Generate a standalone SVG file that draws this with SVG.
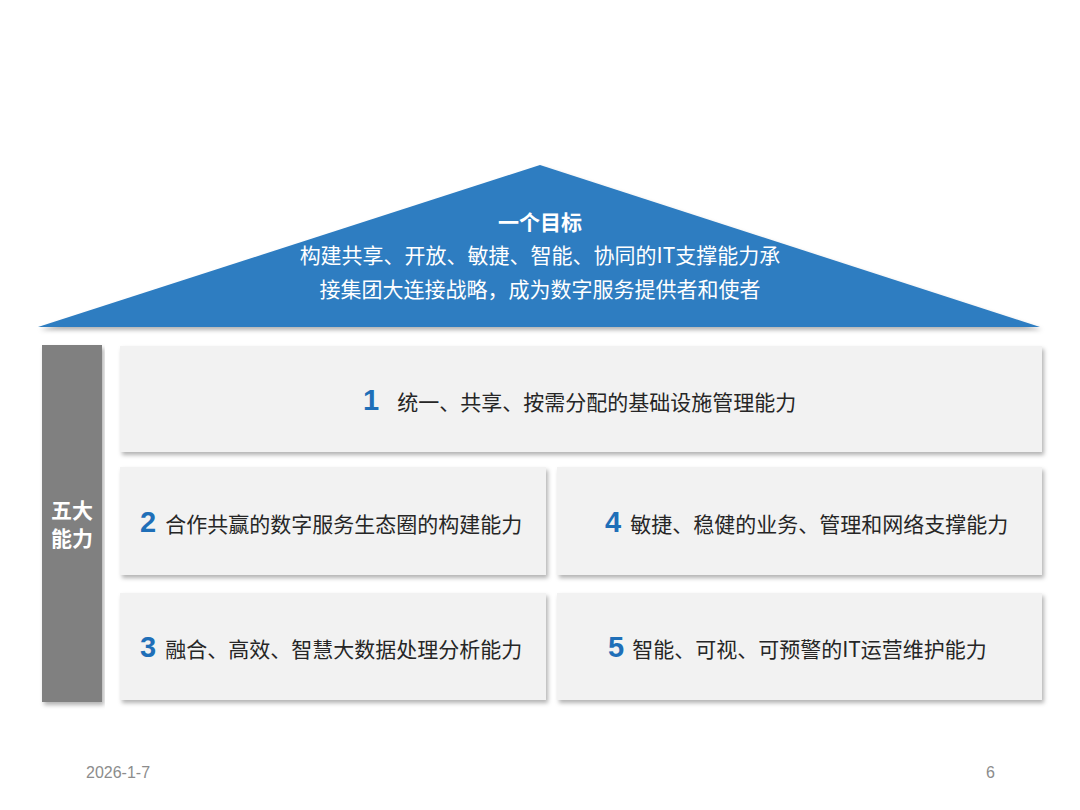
<svg xmlns="http://www.w3.org/2000/svg" width="1080" height="810" viewBox="0 0 1080 810">
<defs>
<filter id="sh" x="-5%" y="-10%" width="110%" height="130%">
<feDropShadow dx="2" dy="3" stdDeviation="2" flood-color="#000" flood-opacity="0.3"/>
</filter>
<style>
.box{fill:#f2f2f2;filter:url(#sh);}
.t{font-family:"Noto Sans CJK SC","Microsoft YaHei",sans-serif;font-size:21px;fill:#262626;}
.n{font-family:"Liberation Sans","Noto Sans CJK SC",sans-serif;font-size:29px;font-weight:bold;fill:#1f6fb8;}
.w{font-family:"Noto Sans CJK SC",sans-serif;font-size:21px;fill:#ffffff;}
.f{font-family:"Liberation Sans",sans-serif;font-size:16px;fill:#8c8c8c;}
</style>
</defs>
<rect width="1080" height="810" fill="#ffffff"/>
<g id="roof">
<polygon points="540,165 1040,327 38,327" fill="#2e7dc1" filter="url(#sh)"/>
<text class="w" x="540" y="230" text-anchor="middle" font-weight="bold">一个目标</text>
<text class="w" x="540" y="263" text-anchor="middle">构建共享、开放、敏捷、智能、协同的IT支撑能力承</text>
<text class="w" x="540" y="297" text-anchor="middle">接集团大连接战略，成为数字服务提供者和使者</text>
</g>
<g id="pillar">
<rect x="42" y="345" width="60" height="357" fill="#808080" filter="url(#sh)"/>
<text class="w" x="72" y="518" text-anchor="middle" font-weight="bold" font-size="19">五大</text>
<text class="w" x="72" y="546" text-anchor="middle" font-weight="bold" font-size="19">能力</text>
</g>
<g id="box1">
<rect class="box" x="120" y="346" width="922" height="106"/>
<text x="363" y="410"><tspan class="n">1</tspan><tspan class="t" dx="18">统一、共享、按需分配的基础设施管理能力</tspan></text>
</g>
<g id="box2">
<rect class="box" x="120" y="467" width="426" height="108"/>
<text x="140" y="532"><tspan class="n">2</tspan><tspan class="t" dx="9">合作共赢的数字服务生态圈的构建能力</tspan></text>
</g>
<g id="box3">
<rect class="box" x="120" y="593" width="426" height="107"/>
<text x="140" y="657"><tspan class="n">3</tspan><tspan class="t" dx="9">融合、高效、智慧大数据处理分析能力</tspan></text>
</g>
<g id="box4">
<rect class="box" x="557" y="467" width="485" height="108"/>
<text x="605" y="532"><tspan class="n">4</tspan><tspan class="t" dx="9">敏捷、稳健的业务、管理和网络支撑能力</tspan></text>
</g>
<g id="box5">
<rect class="box" x="557" y="593" width="485" height="107"/>
<text x="608" y="657"><tspan class="n">5</tspan><tspan class="t" dx="8">智能、可视、可预警的IT运营维护能力</tspan></text>
</g>
<g id="connectors"></g>
<g id="footer">
<text class="f" x="86" y="778">2026-1-7</text>
<text class="f" x="995" y="778" text-anchor="end">6</text>
</g>
</svg>
